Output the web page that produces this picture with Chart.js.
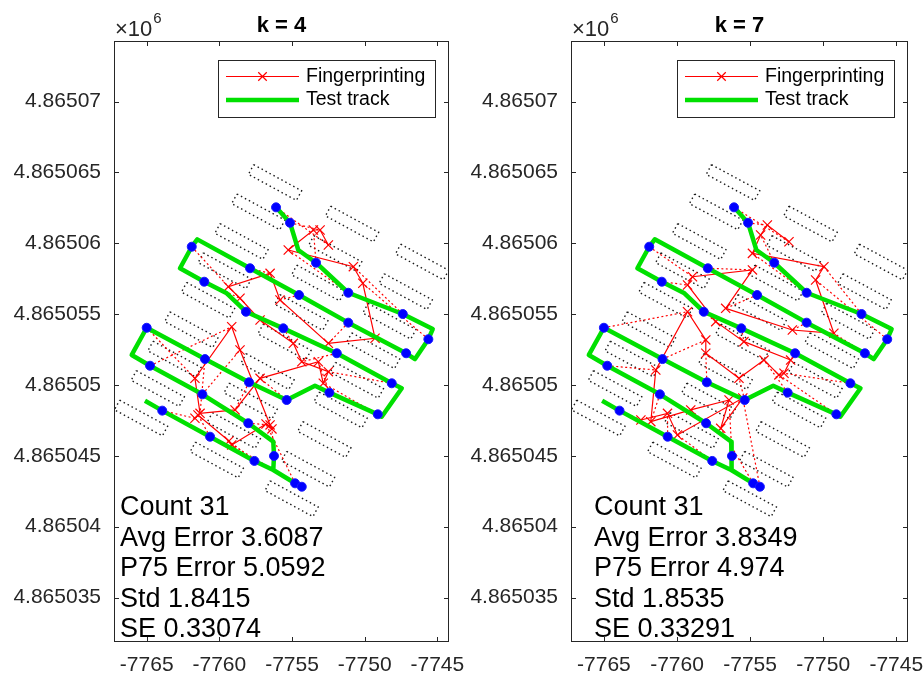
<!DOCTYPE html>
<html>
<head>
<meta charset="utf-8">
<script src="https://cdn.jsdelivr.net/npm/chart.js@4.4.1/dist/chart.umd.min.js"></script>
<style>
  body { margin: 0; background: #fff; }
  canvas { position: absolute; top: 0; }
  #k4 { left: 0; }
  #k7 { left: 462px; }
</style>
</head>
<body>
<canvas id="k4" width="476" height="678"></canvas>
<canvas id="k7" width="462" height="678"></canvas>
<script>
const xTicks = [-7765, -7760, -7755, -7750, -7745];
const yTicks = [4865035, 4865040, 4865045, 4865050, 4865055, 4865060, 4865065, 4865070];

// walked route (out to the far end of the bottom aisle and back)
const trackPath = [
  [-7756.10, 4865062.54], [-7755.14, 4865061.45], [-7754.57, 4865059.53], [-7753.35, 4865058.63],
  [-7751.13, 4865056.51], [-7747.38, 4865055.01], [-7745.32, 4865053.95], [-7745.62, 4865053.23],
  [-7746.54, 4865051.83], [-7747.15, 4865052.24], [-7751.13, 4865054.40], [-7754.52, 4865056.35],
  [-7757.89, 4865058.24], [-7761.52, 4865060.28], [-7761.90, 4865059.76], [-7762.71, 4865058.24],
  [-7761.04, 4865057.29], [-7759.49, 4865056.47], [-7758.17, 4865055.17], [-7755.60, 4865054.00],
  [-7751.92, 4865052.24], [-7748.14, 4865050.12], [-7747.45, 4865049.77], [-7748.83, 4865047.76],
  [-7749.10, 4865047.93], [-7752.43, 4865049.46], [-7753.42, 4865049.95], [-7755.37, 4865048.94],
  [-7757.96, 4865050.19], [-7760.99, 4865051.83], [-7765.00, 4865054.04], [-7766.03, 4865052.12],
  [-7764.77, 4865051.36], [-7761.17, 4865049.34], [-7758.01, 4865047.30], [-7756.29, 4865046.00],
  [-7756.24, 4865044.99], [-7756.29, 4865044.00], [-7754.79, 4865043.06], [-7754.33, 4865042.82],
  [-7754.22, 4865042.71], [-7756.29, 4865044.00], [-7757.59, 4865044.64], [-7760.64, 4865046.35],
  [-7763.93, 4865048.19], [-7765.12, 4865048.89]
];

// reference points in walk order
const testPoints = [
  [-7756.10, 4865062.54], [-7755.14, 4865061.45], [-7753.35, 4865058.63], [-7751.13, 4865056.51],
  [-7747.38, 4865055.01], [-7745.62, 4865053.23], [-7747.15, 4865052.24], [-7751.13, 4865054.40],
  [-7754.52, 4865056.35], [-7757.89, 4865058.24], [-7761.90, 4865059.76], [-7761.04, 4865057.29],
  [-7758.17, 4865055.17], [-7755.60, 4865054.00], [-7751.92, 4865052.24], [-7748.14, 4865050.12],
  [-7749.10, 4865047.93], [-7752.43, 4865049.46], [-7755.37, 4865048.94], [-7757.96, 4865050.19],
  [-7760.99, 4865051.83], [-7765.00, 4865054.04], [-7764.77, 4865051.36], [-7761.17, 4865049.34],
  [-7758.01, 4865047.30], [-7756.24, 4865044.99], [-7754.79, 4865043.06], [-7754.33, 4865042.82],
  [-7757.59, 4865044.64], [-7760.64, 4865046.35], [-7763.93, 4865048.19]
];

// fingerprinting estimates, k = 4
const fpK4 = [
  [-7752.50, 4865059.88], [-7753.07, 4865060.94], [-7753.53, 4865060.94], [-7755.26, 4865059.53],
  [-7750.78, 4865058.35], [-7750.13, 4865057.18], [-7749.29, 4865053.30], [-7752.50, 4865052.94],
  [-7755.83, 4865056.00], [-7756.51, 4865057.88], [-7759.38, 4865056.94], [-7758.58, 4865056.12],
  [-7757.20, 4865054.59], [-7754.91, 4865052.94], [-7754.33, 4865051.64], [-7752.50, 4865050.94],
  [-7752.85, 4865050.12], [-7753.19, 4865051.64], [-7757.20, 4865050.47], [-7758.92, 4865048.24],
  [-7761.33, 4865048.00], [-7761.68, 4865050.47], [-7759.15, 4865054.11], [-7758.58, 4865052.47],
  [-7756.51, 4865047.18], [-7756.38, 4865046.90], [-7756.79, 4865047.25], [-7759.15, 4865045.77],
  [-7759.34, 4865046.05], [-7761.47, 4865047.88], [-7761.68, 4865047.65]
];

// fingerprinting estimates, k = 7
const fpK7 = [
  [-7752.34, 4865060.11], [-7753.82, 4865061.29], [-7754.28, 4865060.59], [-7754.84, 4865059.29],
  [-7749.95, 4865058.35], [-7750.52, 4865057.41], [-7749.27, 4865053.65], [-7752.11, 4865053.88],
  [-7756.67, 4865055.41], [-7754.84, 4865058.12], [-7758.94, 4865057.64], [-7759.28, 4865057.06],
  [-7757.35, 4865054.47], [-7755.42, 4865053.06], [-7752.23, 4865051.76], [-7752.68, 4865050.83],
  [-7753.03, 4865050.71], [-7754.05, 4865051.76], [-7755.76, 4865050.47], [-7758.03, 4865052.24],
  [-7758.03, 4865053.18], [-7759.28, 4865055.17], [-7761.45, 4865051.06], [-7761.79, 4865047.41],
  [-7759.06, 4865048.24], [-7756.44, 4865048.94], [-7757.01, 4865046.94], [-7755.50, 4865049.08],
  [-7759.97, 4865046.47], [-7760.65, 4865048.00], [-7762.47, 4865047.53]
];

// shelf centres, three columns of nine
const shelfCenters = [
  [-7756.17, 4865064.29], [-7757.32, 4865062.22], [-7758.48, 4865060.13], [-7759.63, 4865058.06],
  [-7760.78, 4865055.98], [-7761.93, 4865053.90], [-7763.09, 4865051.83], [-7764.24, 4865049.75],
  [-7765.39, 4865047.67],
  [-7750.87, 4865061.36], [-7752.03, 4865059.28], [-7753.20, 4865057.20], [-7754.36, 4865055.12],
  [-7755.52, 4865053.03], [-7756.69, 4865050.95], [-7757.85, 4865048.87], [-7759.01, 4865046.79],
  [-7760.18, 4865044.71],
  [-7746.05, 4865058.68], [-7747.18, 4865056.59], [-7748.30, 4865054.50], [-7749.42, 4865052.42],
  [-7750.54, 4865050.33], [-7751.66, 4865048.24], [-7752.78, 4865046.15], [-7753.90, 4865044.06],
  [-7755.03, 4865041.97]
];

const statsK4 = [['Count', 31], ['Avg Error', 3.6087], ['P75 Error', 5.0592], ['Std', 1.8415], ['SE', 0.33074]];
const statsK7 = [['Count', 31], ['Avg Error', 3.8349], ['P75 Error', 4.974], ['Std', 1.8535], ['SE', 0.33291]];

// shelf outline corners relative to the centre (metres)
const shelfFootprint = [[-1.47, 1.26], [1.83, -0.58], [1.47, -1.26], [-1.83, 0.58]];

const FP_RED = '#ff0000';
const TRACK_GREEN = '#00e000';
const AXIS_GREY = '#262626';
const GAP = {x: null, y: null};

Chart.defaults.font.family = '"Liberation Sans", Arial, Helvetica, sans-serif';

function toPts(list) {
  return list.map(([x, y]) => ({x, y}));
}

function shelfOutlines() {
  const pts = [];
  shelfCenters.forEach(([cx, cy]) => {
    shelfFootprint.concat([shelfFootprint[0]]).forEach(([dx, dy]) => pts.push({x: cx + dx, y: cy + dy}));
    pts.push(GAP);
  });
  return pts;
}

function errorLinks(est) {
  const pts = [];
  testPoints.forEach(([x, y], i) => {
    pts.push({x, y}, {x: est[i][0], y: est[i][1]}, GAP);
  });
  return pts;
}

// box, inward ticks, title, exponent, legend and summary text
const axesFrame = {
  id: 'axesFrame',
  afterDraw(chart, args, opts) {
    const {ctx, chartArea: a, scales: {x, y}} = chart;
    ctx.save();

    ctx.strokeStyle = AXIS_GREY;
    ctx.lineWidth = 1;
    ctx.strokeRect(a.left + 0.5, a.top + 0.5, a.width - 1, a.height - 1);
    ctx.beginPath();
    x.ticks.forEach(t => {
      const px = Math.round(x.getPixelForValue(t.value)) + 0.5;
      ctx.moveTo(px, a.bottom); ctx.lineTo(px, a.bottom - 5);
      ctx.moveTo(px, a.top); ctx.lineTo(px, a.top + 5);
    });
    y.ticks.forEach(t => {
      const py = Math.round(y.getPixelForValue(t.value)) + 0.5;
      ctx.moveTo(a.left, py); ctx.lineTo(a.left + 5, py);
      ctx.moveTo(a.right, py); ctx.lineTo(a.right - 5, py);
    });
    ctx.stroke();

    // title
    ctx.fillStyle = '#000';
    ctx.font = 'bold 22px "Liberation Sans", Arial, sans-serif';
    ctx.textAlign = 'center';
    ctx.textBaseline = 'middle';
    ctx.fillText(opts.title, (a.left + a.right) / 2, 26);

    // axis exponent
    ctx.fillStyle = AXIS_GREY;
    ctx.textAlign = 'left';
    ctx.font = '22px "Liberation Sans", Arial, sans-serif';
    ctx.fillText('\u00d710', a.left + 1, 30);
    const w = ctx.measureText('\u00d710').width;
    ctx.font = '15px "Liberation Sans", Arial, sans-serif';
    ctx.fillText('6', a.left + 2 + w, 19);

    // legend
    const lw = 217, lh = 57;
    const lx = Math.round(a.right - 14 - lw), ly = Math.round(a.top + 19);
    ctx.fillStyle = '#fff';
    ctx.fillRect(lx, ly, lw, lh);
    ctx.strokeStyle = AXIS_GREY;
    ctx.lineWidth = 1;
    ctx.strokeRect(lx + 0.5, ly + 0.5, lw, lh);
    const r1 = ly + 16.5, r2 = ly + 40;
    ctx.strokeStyle = FP_RED;
    ctx.lineWidth = 1.2;
    ctx.beginPath();
    ctx.moveTo(lx + 8, r1); ctx.lineTo(lx + 81, r1);
    ctx.stroke();
    Chart.helpers.drawPoint(ctx, {pointStyle: 'crossRot', radius: 6, borderWidth: 1.2, rotation: 0}, lx + 44.5, r1);
    ctx.strokeStyle = TRACK_GREEN;
    ctx.lineWidth = 4.5;
    ctx.beginPath();
    ctx.moveTo(lx + 8, r2); ctx.lineTo(lx + 81, r2);
    ctx.stroke();
    ctx.fillStyle = '#000';
    ctx.font = '19.5px "Liberation Sans", Arial, sans-serif';
    ctx.fillText('Fingerprinting', lx + 88, r1);
    ctx.fillText('Test track', lx + 88, r2);

    // summary
    ctx.font = '27px "Liberation Sans", Arial, sans-serif';
    opts.stats.forEach(([name, v], i) => {
      ctx.fillText(name + ' ' + String(v), a.left + opts.textDx, 508 + i * 30.5);
    });

    ctx.restore();
  }
};

function makeChart(id, title, est, stats, yWidth, rightPad, textDx) {
  return new Chart(document.getElementById(id), {
    type: 'line',
    data: {
      datasets: [
        {label: 'points', data: toPts(testPoints), showLine: false, pointRadius: 4.5,
         pointBackgroundColor: '#0000ff', pointBorderColor: '#1818ff', pointBorderWidth: 1, order: 0},
        {label: 'Test track', data: toPts(trackPath), borderColor: TRACK_GREEN, borderWidth: 4.5,
         borderJoinStyle: 'round', pointRadius: 0, order: 1},
        {label: 'Fingerprinting', data: toPts(est), borderColor: FP_RED, borderWidth: 1.2,
         pointStyle: 'crossRot', pointRadius: 6.5, pointBorderColor: FP_RED, pointBorderWidth: 1.2, order: 2},
        {label: 'errors', data: errorLinks(est), borderColor: FP_RED, borderWidth: 1.2,
         borderDash: [2, 2.5], pointRadius: 0, order: 3},
        {label: 'shelves', data: shelfOutlines(), borderColor: '#1a1a1a', borderWidth: 1.4,
         borderDash: [1.5, 3], pointRadius: 0, order: 4}
      ]
    },
    options: {
      responsive: false,
      animation: false,
      events: [],
      spanGaps: false,
      layout: {padding: {left: 4, right: rightPad, top: 41, bottom: 0}},
      elements: {line: {tension: 0, fill: false}},
      scales: {
        x: {
          type: 'linear', min: -7767.25, max: -7744.2,
          grid: {display: false, drawTicks: false}, border: {display: false},
          ticks: {color: AXIS_GREY, font: {size: 21}, padding: 11, maxRotation: 0, autoSkip: false,
                  callback: v => String(v)},
          afterBuildTicks: s => { s.ticks = xTicks.map(v => ({value: v})); },
          afterFit: s => { s.height = 36; s.paddingLeft = 0; s.paddingRight = 0; }
        },
        y: {
          type: 'linear', min: 4865031.86, max: 4865074.28,
          grid: {display: false, drawTicks: false}, border: {display: false},
          ticks: {color: AXIS_GREY, font: {size: 21}, padding: 13, autoSkip: false,
                  callback: v => (v / 1e6).toFixed(6).replace(/0+$/, '')},
          afterBuildTicks: s => { s.ticks = yTicks.map(v => ({value: v})); },
          afterFit: s => { s.width = yWidth; s.paddingTop = 0; s.paddingBottom = 0; }
        }
      },
      plugins: {
        legend: {display: false},
        tooltip: {enabled: false},
        axesFrame: {title, stats, textDx}
      }
    },
    plugins: [axesFrame]
  });
}

makeChart('k4', 'k = 4', fpK4, statsK4, 110, 27, 6);
makeChart('k7', 'k = 7', fpK7, statsK7, 105, 16, 23);
</script>
</body>
</html>
